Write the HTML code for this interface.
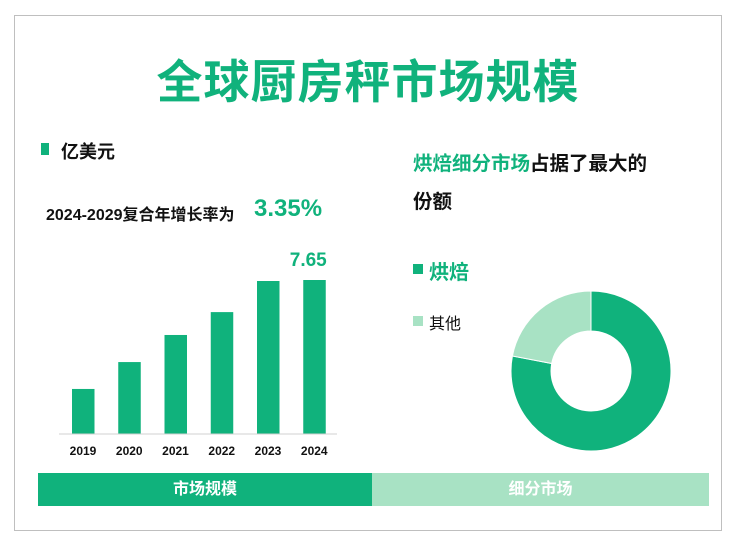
<!DOCTYPE html>
<html><head><meta charset="utf-8"><style>
body{margin:0;background:#fff;font-family:"Liberation Sans","Noto Sans CJK SC",sans-serif;}
#root{position:relative;width:730px;height:546px;overflow:hidden;background:#fff;}
.frame{position:absolute;left:14px;top:15px;width:706px;height:514px;border:1px solid #bfbfbf;}
.t{position:absolute;white-space:nowrap;}
</style></head><body>
<div id="root">
<div class="frame"></div>
<div class="t" style="left:0;width:736px;text-align:center;top:46px;font-size:46px;font-weight:bold;color:#10b27c;letter-spacing:1px;">全球厨房秤市场规模</div>
<div style="position:absolute;left:41px;top:143px;width:8px;height:12px;background:#10b27c"></div>
<div class="t" style="left:61px;top:138px;font-size:18px;font-weight:bold;color:#111">亿美元</div>
<div class="t" style="left:46px;top:201px;font-size:16px;font-weight:bold;color:#111">2024-2029复合年增长率为</div>
<div class="t" style="left:254px;top:195px;font-size:24px;font-weight:bold;color:#10b27c">3.35%</div>
<svg id="bars" width="730" height="546" style="position:absolute;left:0;top:0"></svg>
<div class="t" style="left:413px;top:145px;font-size:19.5px;font-weight:bold;color:#111;line-height:38px"><span style="color:#10b27c">烘焙细分市场</span>占据了最大的<br>份额</div>
<div style="position:absolute;left:413px;top:264px;width:10px;height:10px;background:#10b27c"></div>
<div class="t" style="left:429px;top:256px;font-size:20px;font-weight:bold;color:#10b27c">烘焙</div>
<div style="position:absolute;left:413px;top:316px;width:10px;height:10px;background:#a8e2c4"></div>
<div class="t" style="left:429px;top:310px;font-size:16px;color:#111">其他</div>
<svg id="donut" width="730" height="546" style="position:absolute;left:0;top:0"></svg>
<div class="t" style="left:38px;top:473px;width:334px;height:33px;background:#10b27c;color:#fff;font-size:16px;font-weight:bold;text-align:center;line-height:33px">市场规模</div>
<div class="t" style="left:372px;top:473px;width:337px;height:33px;background:#a8e2c4;color:#fff;font-size:16px;font-weight:bold;text-align:center;line-height:33px">细分市场</div>
</div>
<script>
const years=["2019","2020","2021","2022","2023","2024"];
const values=[2.22,3.56,4.91,6.05,7.60,7.65];
const shownLabels=["","","","","","7.65"];
const segNames=["烘焙","其他"];
const segShares=[78,22];
const NS="http://www.w3.org/2000/svg";
const svg=document.getElementById('bars');
const base=433.5, scale=153.5/7.65;
const x=i=>72+i*46.25;
const y=v=>base-v*scale;
let ax=document.createElementNS(NS,'line');
ax.setAttribute('x1',59);ax.setAttribute('x2',337);ax.setAttribute('y1',base+0.5);ax.setAttribute('y2',base+0.5);
ax.setAttribute('stroke','#d0d0d0');


svg.appendChild(ax);
values.forEach((v,i)=>{
 let r=document.createElementNS(NS,'rect');
 r.setAttribute('x',x(i));r.setAttribute('y',y(v));r.setAttribute('width',22.5);r.setAttribute('height',base-y(v));r.setAttribute('fill','#10b27c');
 
 
 svg.appendChild(r);
 let t=document.createElementNS(NS,'text');
 t.setAttribute('x',x(i)+11);t.setAttribute('y',455);t.setAttribute('text-anchor','middle');t.setAttribute('font-size','12');t.setAttribute('font-weight','bold');t.setAttribute('fill','#111');
 t.textContent=years[i];
 
 
 svg.appendChild(t);
 if(shownLabels[i]){
  let l=document.createElementNS(NS,'text');
  l.setAttribute('x',x(i)+5);l.setAttribute('y',y(v)-14);l.setAttribute('text-anchor','middle');l.setAttribute('font-size','19');l.setAttribute('font-weight','bold');l.setAttribute('fill','#10b27c');
  l.textContent=shownLabels[i];
  
  
  svg.appendChild(l);
 }
});
const d=document.getElementById('donut');
const cx=591,cy=371,R=80,r0=40;
const colors=["#10b27c","#a8e2c4"];
const total=segShares.reduce((a,b)=>a+b,0);
let a0=0;
segShares.forEach((s,i)=>{
 const a1=a0+s/total*2*Math.PI;
 const p=(a,rr)=>[cx+rr*Math.sin(a),cy-rr*Math.cos(a)];
 const large=(a1-a0)>Math.PI?1:0;
 const [x1,y1]=p(a0,R),[x2,y2]=p(a1,R),[x3,y3]=p(a1,r0),[x4,y4]=p(a0,r0);
 let path=document.createElementNS(NS,'path');
 path.setAttribute('d',`M${x1},${y1}A${R},${R} 0 ${large} 1 ${x2},${y2}L${x3},${y3}A${r0},${r0} 0 ${large} 0 ${x4},${y4}Z`);
 path.setAttribute('fill',colors[i]);path.setAttribute('stroke','#fff');path.setAttribute('stroke-width','1');
 
 
 d.appendChild(path);
 a0=a1;
});
</script>
</body></html>
